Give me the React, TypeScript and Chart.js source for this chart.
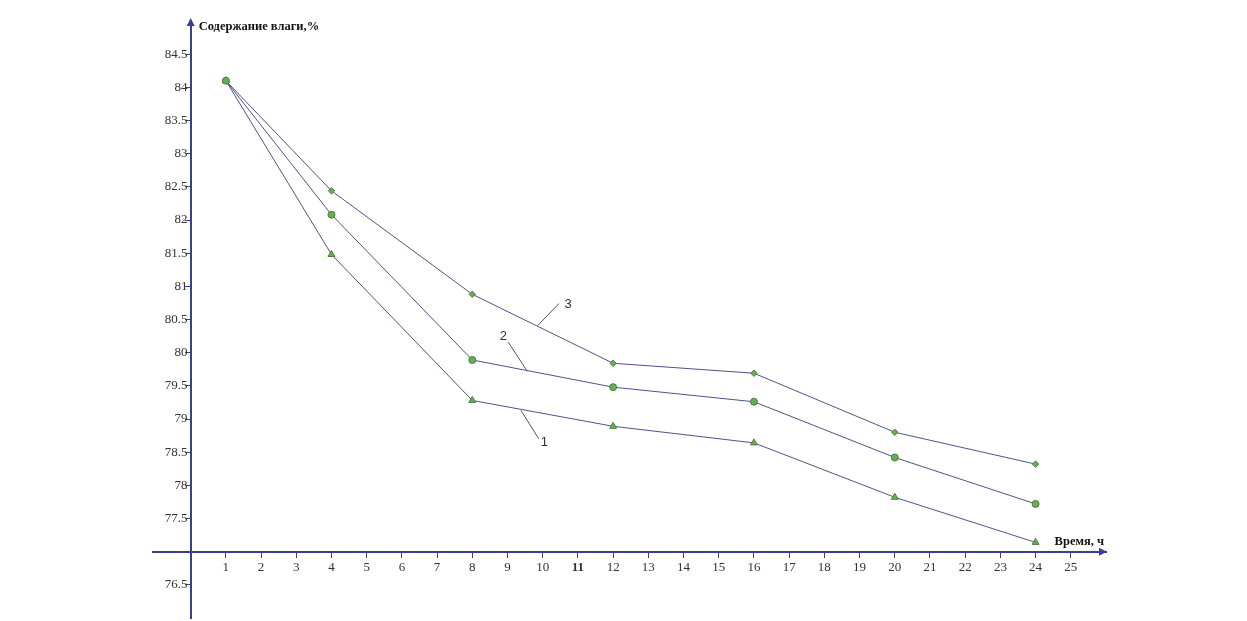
import React, { useEffect, useRef } from "react";
import { Chart, registerables } from "chart.js";

Chart.register(...registerables);

// Data
const hours = [1, 4, 8, 12, 16, 20, 24];
const series1 = [84.1, 81.48, 79.28, 78.89, 78.64, 77.82, 77.14];
const series2 = [84.1, 82.08, 79.89, 79.48, 79.26, 78.42, 77.72];
const series3 = [84.1, 82.44, 80.88, 79.84, 79.69, 78.8, 78.32];
const seriesNames = ["1", "2", "3"];

// Tick labels
const xTickValues = [1, 2, 3, 4, 5, 6, 7, 8, 9, 10, 11, 12, 13, 14, 15, 16, 17, 18, 19, 20, 21, 22, 23, 24, 25];
const yTickValues = [76.5, 77.5, 78, 78.5, 79, 79.5, 80, 80.5, 81, 81.5, 82, 82.5, 83, 83.5, 84, 84.5];

const xTitle = "Время, ч";
const yTitle = "Содержание влаги,%";

// Leader annotations in data units
const leaderLabels = ["1", "2", "3"];
const leaderFrom = [
  [9.38, 79.13],
  [9.56, 79.72],
  [9.86, 80.41],
];
const leaderTo = [
  [9.89, 78.7],
  [9.02, 80.16],
  [10.46, 80.74],
];
const leaderText = [
  [10.05, 78.64],
  [8.88, 80.25],
  [10.72, 80.73],
];

const AXIS = "#3b3f92";
const LINE = "#4e528c";
const FILL = "#68ad55";
const EDGE = "#4a8039";
const FONT = "'Liberation Serif', 'Times New Roman', serif";

const toPts = (ys: number[]) => hours.map((h, i) => ({ x: h, y: ys[i] }));

const noPad = (s: any) => {
  s.paddingTop = 0;
  s.paddingBottom = 0;
  s.paddingLeft = 0;
  s.paddingRight = 0;
};

const decorPlugin = {
  id: "decor",
  afterDraw(chart: any) {
    const { ctx, chartArea, scales } = chart;
    const xs = scales.x;
    const ys = scales.y;
    const axisY = ys.getPixelForValue(77);
    const axisX = xs.getPixelForValue(0);
    ctx.save();
    ctx.fillStyle = AXIS;
    // right arrow
    const rx = chartArea.right;
    ctx.beginPath();
    ctx.moveTo(rx + 1, axisY);
    ctx.lineTo(rx - 7, axisY - 4);
    ctx.lineTo(rx - 7, axisY + 4);
    ctx.closePath();
    ctx.fill();
    // up arrow
    const ty = chartArea.top;
    ctx.beginPath();
    ctx.moveTo(axisX, ty - 3);
    ctx.lineTo(axisX - 4, ty + 5);
    ctx.lineTo(axisX + 4, ty + 5);
    ctx.closePath();
    ctx.fill();

    // titles
    ctx.fillStyle = "#111";
    ctx.font = "bold 12.5px " + FONT;
    ctx.textAlign = "left";
    ctx.textBaseline = "middle";
    ctx.fillText(yTitle, axisX + 8, ty + 6);
    ctx.textAlign = "right";
    ctx.textBaseline = "alphabetic";
    ctx.fillText(xTitle, rx - 2, axisY - 7);

    // leaders
    ctx.strokeStyle = "#555";
    ctx.lineWidth = 1;
    ctx.fillStyle = "#333";
    ctx.font = "13px 'Liberation Sans', Arial, sans-serif";
    ctx.textAlign = "center";
    ctx.textBaseline = "middle";
    leaderLabels.forEach((lab, i) => {
      ctx.beginPath();
      ctx.moveTo(xs.getPixelForValue(leaderFrom[i][0]), ys.getPixelForValue(leaderFrom[i][1]));
      ctx.lineTo(xs.getPixelForValue(leaderTo[i][0]), ys.getPixelForValue(leaderTo[i][1]));
      ctx.stroke();
      ctx.fillText(lab, xs.getPixelForValue(leaderText[i][0]), ys.getPixelForValue(leaderText[i][1]));
    });
    ctx.restore();
  },
};

export default function App() {
  const ref = useRef<HTMLCanvasElement | null>(null);
  useEffect(() => {
    if (!ref.current) return;
    const common = {
      borderColor: LINE,
      borderWidth: 1,
      backgroundColor: FILL,
      pointBackgroundColor: FILL,
      pointBorderColor: EDGE,
      pointBorderWidth: 1,
      showLine: true,
      tension: 0,
    };
    const chart = new Chart(ref.current, {
      type: "line",
      data: {
        datasets: [
          { ...common, label: seriesNames[1], data: toPts(series2), pointStyle: "circle", pointRadius: 3.5, order: 0 },
          { ...common, label: seriesNames[0], data: toPts(series1), pointStyle: "triangle", pointRadius: 4, order: 1 },
          { ...common, label: seriesNames[2], data: toPts(series3), pointStyle: "rectRot", pointRadius: 3.2, order: 2 },
        ],
      },
      options: {
        animation: false,
        responsive: false,
        devicePixelRatio: 1,
        layout: { autoPadding: false, padding: { left: 153, right: 141, top: 21, bottom: 3 } },
        plugins: { legend: { display: false }, tooltip: { enabled: false } },
        scales: {
          x: {
            type: "linear",
            min: -1.07,
            max: 26,
            position: { y: 77 },
            afterFit: noPad,
            afterBuildTicks: (s: any) => {
              s.ticks = xTickValues.map((v) => ({ value: v }));
            },
            border: { display: true, color: AXIS, width: 2 },
            grid: { drawOnChartArea: false, drawTicks: true, tickLength: 5, color: AXIS },
            ticks: {
              color: "#333",
              padding: 3,
              maxRotation: 0,
              autoSkip: false,
              font: (c: any) => ({ family: FONT, size: 13, weight: c.tick && c.tick.value === 11 ? "bold" : "normal" }),
              callback: (v: any) => String(v),
            },
          },
          y: {
            type: "linear",
            min: 76,
            max: 85,
            position: { x: 0 },
            afterFit: noPad,
            afterBuildTicks: (s: any) => {
              s.ticks = yTickValues.map((v) => ({ value: v }));
            },
            border: { display: true, color: AXIS, width: 2 },
            grid: { drawOnChartArea: false, drawTicks: true, tickLength: 5, color: AXIS },
            ticks: {
              color: "#333",
              autoSkip: false,
              font: { family: FONT, size: 13 },
              callback: (v: any) => String(v) + " ",
            },
          },
        },
      },
      plugins: [decorPlugin],
    } as any);
    return () => chart.destroy();
  }, []);
  return (
    <div style={{ position: "fixed", left: 0, top: 0, width: 1247, height: 621, background: "#fff" }}>
      <canvas ref={ref} width={1247} height={621} style={{ width: 1247, height: 621 }} />
    </div>
  );
}
